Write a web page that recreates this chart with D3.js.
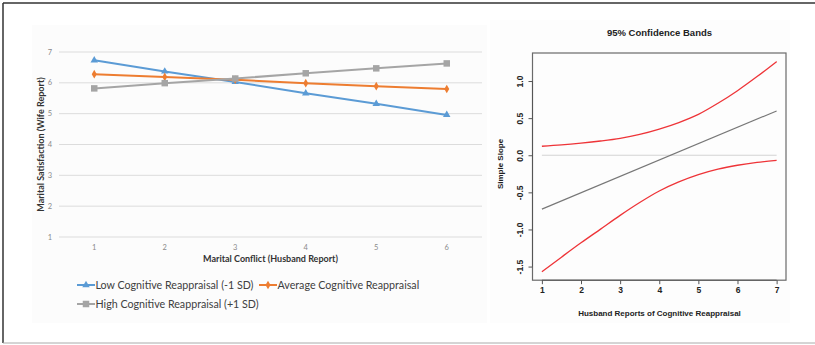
<!DOCTYPE html>
<html>
<head>
<meta charset="utf-8">
<style>
  body { margin: 0; background: #fff; }
  svg { display: block; }
</style>
</head>
<body>
<script src="https://cdn.jsdelivr.net/npm/d3@7"></script>
<script>
// ---- left chart data (simple slopes of marital conflict) ----
var conflictLevels = [1, 2, 3, 4, 5, 6];
var lowReappraisal = [6.73, 6.37, 6.03, 5.66, 5.32, 4.96];
var avgReappraisal = [6.28, 6.19, 6.10, 5.99, 5.89, 5.80];
var highReappraisal = [5.82, 5.99, 6.14, 6.31, 6.47, 6.63];
var satisfactionTicks = [1, 2, 3, 4, 5, 6, 7];
var seriesNames = ["Low Cognitive Reappraisal (-1 SD)", "Average Cognitive Reappraisal", "High Cognitive Reappraisal (+1 SD)"];

// ---- right chart data (95% confidence bands) ----
var bandX = [1, 1.5, 2, 2.5, 3, 3.5, 4, 4.5, 5, 5.5, 6, 6.5, 7];
var upperBand = [0.121, 0.139, 0.163, 0.192, 0.228, 0.28, 0.352, 0.44, 0.55, 0.7, 0.87, 1.06, 1.262];
var lowerBand = [-1.569, -1.373, -1.18, -0.995, -0.81, -0.637, -0.482, -0.36, -0.262, -0.188, -0.135, -0.096, -0.068];
var slopeX = [1, 7];
var slopeY = [-0.726, 0.597];
var slopeXTicks = [1, 2, 3, 4, 5, 6, 7];
var slopeYTicks = [-1.5, -1.0, -0.5, 0.0, 0.5, 1.0];

var width = 815, height = 345;
var svg = d3.select("body").append("svg")
    .attr("width", width)
    .attr("height", height);

// frame
svg.append("rect").attr("x", 0).attr("y", 0).attr("width", width).attr("height", height).attr("fill", "#fff");
svg.append("rect").attr("x", 32).attr("y", 25).attr("width", 455).attr("height", 298).attr("fill", "#fcfcfc");
svg.append("rect").attr("x", 490).attr("y", 20).attr("width", 300).attr("height", 303).attr("fill", "#fdfdfd");
svg.append("line").attr("x1", 3).attr("x2", 3).attr("y1", 3).attr("y2", 343).attr("stroke", "#333").attr("stroke-width", 1.5);
svg.append("line").attr("x1", 3).attr("x2", width).attr("y1", 3).attr("y2", 3).attr("stroke", "#333").attr("stroke-width", 1.5);
svg.append("line").attr("x1", 3).attr("x2", width).attr("y1", 343).attr("y2", 343).attr("stroke", "#aaa").attr("stroke-width", 1);

// ================= left chart =================
var x = d3.scalePoint().domain(conflictLevels).range([59, 482]).padding(0.5);
var y = d3.scaleLinear().domain([1, 7]).range([237, 52]);

var left = svg.append("g").attr("font-family", "Lato, 'Open Sans', sans-serif");

left.append("g")
    .selectAll("line")
    .data(satisfactionTicks)
    .join("line")
    .attr("x1", 59).attr("x2", 482)
    .attr("y1", d => y(d)).attr("y2", d => y(d))
    .attr("stroke", "#dcdcdc")
    .attr("stroke-width", 1);

left.append("g")
    .selectAll("text")
    .data(satisfactionTicks)
    .join("text")
    .attr("x", 52).attr("y", d => y(d))
    .attr("dy", "0.35em")
    .attr("text-anchor", "end")
    .attr("font-size", 7.5)
    .attr("fill", "#8a8a8a")
    .text(d => d);

left.append("g")
    .selectAll("text")
    .data(conflictLevels)
    .join("text")
    .attr("x", d => x(d)).attr("y", 247)
    .attr("dy", "0.35em")
    .attr("text-anchor", "middle")
    .attr("font-size", 7.5)
    .attr("fill", "#8a8a8a")
    .text(d => d);

left.append("text")
    .attr("x", 270.5).attr("y", 259)
    .attr("dy", "0.35em")
    .attr("text-anchor", "middle")
    .attr("font-size", 9)
    .attr("font-weight", "bold")
    .attr("fill", "#333")
    .text("Marital Conflict (Husband Report)");

left.append("text")
    .attr("transform", "translate(41,144.5) rotate(-90)")
    .attr("dy", "0.35em")
    .attr("text-anchor", "middle")
    .attr("font-size", 9)
    .attr("font-weight", "bold")
    .attr("fill", "#333")
    .text("Marital Satisfaction (Wife Report)");

var series = [
    { name: seriesNames[0], values: lowReappraisal, color: "#5b9bd5", shape: "triangle" },
    { name: seriesNames[1], values: avgReappraisal, color: "#ed7d31", shape: "diamond" },
    { name: seriesNames[2], values: highReappraisal, color: "#a5a5a5", shape: "square" }
];

var symbolFor = {
    triangle: d3.symbol().type(d3.symbolTriangle).size(24),
    diamond: d3.symbol().type(d3.symbolDiamond).size(22),
    square: d3.symbol().type(d3.symbolSquare).size(42)
};

var line = d3.line()
    .x((d, i) => x(conflictLevels[i]))
    .y(d => y(d));

var sg = left.append("g")
    .selectAll("g")
    .data(series)
    .join("g");

sg.append("path")
    .attr("d", d => line(d.values))
    .attr("fill", "none")
    .attr("stroke", d => d.color)
    .attr("stroke-width", 2);

sg.each(function (s) {
    d3.select(this).selectAll("path.mark")
        .data(s.values)
        .join("path")
        .attr("class", "mark")
        .attr("transform", (d, i) => `translate(${x(conflictLevels[i])},${y(d)})`)
        .attr("d", symbolFor[s.shape]())
        .attr("fill", s.color);
});

// legend
var legendPos = [[77, 285], [259, 285], [77, 304]];
var lg = left.append("g")
    .selectAll("g")
    .data(series)
    .join("g")
    .attr("transform", (d, i) => `translate(${legendPos[i][0]},${legendPos[i][1]})`);

lg.append("line")
    .attr("x1", 0).attr("x2", 18)
    .attr("stroke", d => d.color)
    .attr("stroke-width", 2);

lg.append("path")
    .attr("transform", "translate(9,0)")
    .attr("d", d => symbolFor[d.shape]())
    .attr("fill", d => d.color);

lg.append("text")
    .attr("x", 18.5)
    .attr("dy", "0.35em")
    .attr("font-size", 10.7)
    .attr("fill", "#404040")
    .text(d => d.name);

// ================= right chart =================
var bx = d3.scaleLinear().domain([0.76, 7.24]).range([532.5, 786]);
var by = d3.scaleLinear().domain([-1.6836, 1.3776]).range([280.2, 53]);

var right = svg.append("g").attr("font-family", "'Liberation Sans', Arial, sans-serif");

right.append("text")
    .attr("x", 659.5).attr("y", 33)
    .attr("dy", "0.35em")
    .attr("text-anchor", "middle")
    .attr("font-size", 9.5)
    .attr("font-weight", "bold")
    .attr("fill", "#222")
    .text("95% Confidence Bands");

// zero reference
right.append("line")
    .attr("x1", bx(1)).attr("x2", bx(7))
    .attr("y1", by(0)).attr("y2", by(0))
    .attr("stroke", "#d3d3d3")
    .attr("stroke-width", 1);

var bandLine = d3.line()
    .x((d, i) => bx(bandX[i]))
    .y(d => by(d))
    .curve(d3.curveMonotoneX);

right.append("path")
    .attr("d", d3.line().x((d, i) => bx(slopeX[i])).y(d => by(d))(slopeY))
    .attr("fill", "none")
    .attr("stroke", "#777")
    .attr("stroke-width", 1.1);

right.selectAll("path.band")
    .data([upperBand, lowerBand])
    .join("path")
    .attr("class", "band")
    .attr("d", bandLine)
    .attr("fill", "none")
    .attr("stroke", "#ee3438")
    .attr("stroke-width", 1.3);

right.append("rect")
    .attr("x", 532.5).attr("y", 53)
    .attr("width", 786 - 532.5).attr("height", 280.2 - 53)
    .attr("fill", "none")
    .attr("stroke", "#6a6a6a")
    .attr("stroke-width", 1.2);

var xAxis = right.append("g")
    .attr("transform", "translate(0,280.2)")
    .call(d3.axisBottom(bx).tickValues(slopeXTicks).tickSize(4).tickPadding(3).tickFormat(d3.format("d")));
xAxis.select(".domain").attr("d", `M${bx(1)},0H${bx(7)}`).attr("stroke", "#555");
xAxis.selectAll(".tick line").attr("stroke", "#555");
xAxis.selectAll("text").attr("font-size", 8.5).attr("font-weight", "bold").attr("fill", "#222")
    .attr("font-family", "'Liberation Sans', Arial, sans-serif");

var yAxis = right.append("g")
    .attr("transform", "translate(532.5,0)")
    .call(d3.axisLeft(by).tickValues(slopeYTicks).tickSize(4).tickFormat(d3.format(".1f")));
yAxis.select(".domain").attr("d", `M0,${by(-1.5)}V${by(1.0)}`).attr("stroke", "#555");
yAxis.selectAll(".tick line").attr("stroke", "#555");
yAxis.selectAll("text")
    .attr("x", 0).attr("dy", null)
    .attr("transform", "translate(-13,0) rotate(-90)")
    .attr("text-anchor", "middle")
    .attr("dominant-baseline", "central")
    .attr("font-size", 8.5).attr("font-weight", "bold").attr("fill", "#222")
    .attr("font-family", "'Liberation Sans', Arial, sans-serif")
    .text(d => d3.format(".1f")(d).replace("−", "-"));

right.append("text")
    .attr("x", 659.5).attr("y", 313)
    .attr("dy", "0.35em")
    .attr("text-anchor", "middle")
    .attr("font-size", 8)
    .attr("font-weight", "bold")
    .attr("fill", "#222")
    .text("Husband Reports of Cognitive Reappraisal");

right.append("text")
    .attr("transform", "translate(500,164) rotate(-90)")
    .attr("dy", "0.35em")
    .attr("text-anchor", "middle")
    .attr("font-size", 8)
    .attr("font-weight", "bold")
    .attr("fill", "#222")
    .text("Simple Slope");
</script>
</body>
</html>
